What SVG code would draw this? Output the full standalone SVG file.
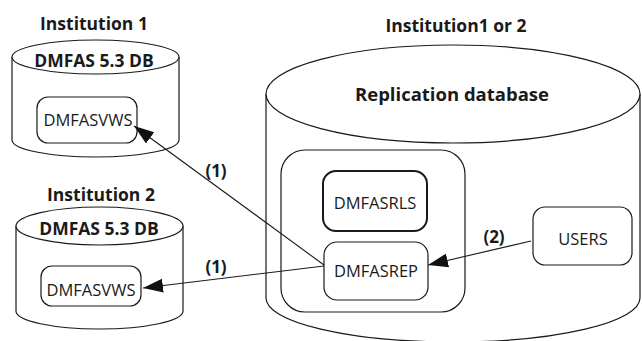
<svg xmlns="http://www.w3.org/2000/svg" width="642" height="341" viewBox="0 0 642 341">
<defs>
<style>
.s{fill:none;stroke:#1a1a1a;stroke-width:1.2}
.w{fill:#fff;stroke:#1a1a1a;stroke-width:1.2}
.b{font-family:"Open Sans","Liberation Sans",sans-serif;font-weight:bold;fill:#1a1a1a;text-anchor:middle}
.r{font-family:"Open Sans","Liberation Sans",sans-serif;fill:#1a1a1a;text-anchor:middle;font-size:16.5px}
.c{fill:none;stroke:#1a1a1a;stroke-width:1.1}
</style>
<marker id="ah" markerUnits="userSpaceOnUse" markerWidth="22" markerHeight="16" refX="20" refY="7" orient="auto" viewBox="0 0 22 14">
<path d="M0,0 L20,7 L0,14 Z" fill="#111"/>
</marker>
</defs>
<rect width="642" height="341" fill="#fff"/>

<g id="institution1">
<text class="b" x="94" y="30" font-size="17.5">Institution 1</text>
<path class="w" d="M12,57 L12,140 A83.5,17 0 0 0 179,140 L179,57"/>
<ellipse class="w" cx="95.5" cy="57" rx="83.5" ry="17"/>
<text class="b" x="94" y="67" font-size="17.5">DMFAS 5.3 DB</text>
<rect class="w" x="37" y="97" width="100" height="46" rx="11"/>
<text class="r" x="88" y="126">DMFASVWS</text>
</g>

<g id="institution2">
<text class="b" x="101" y="201" font-size="17.5">Institution 2</text>
<path class="w" d="M16,226 L16,311 A83.5,18 0 0 0 183,311 L183,226"/>
<ellipse class="w" cx="99.5" cy="226" rx="83.5" ry="19"/>
<text class="b" x="99" y="235" font-size="17.5">DMFAS 5.3 DB</text>
<rect class="w" x="41" y="266" width="100" height="40" rx="11"/>
<text class="r" x="91" y="296">DMFASVWS</text>
</g>

<g id="replication">
<text class="b" x="456" y="32" font-size="17.5">Institution1 or 2</text>
<path class="w" d="M266,94 L266,298 A187,44 0 0 0 640,298 L640,94"/>
<ellipse class="w" cx="453" cy="94" rx="187" ry="49"/>
<text class="b" x="452" y="101" font-size="18.5">Replication database</text>
<rect class="w" x="281" y="150" width="184" height="162" rx="24"/>
</g>

<g id="dmfasrls">
<rect x="323" y="171" width="104" height="60" rx="13" fill="#fff" stroke="#1a1a1a" stroke-width="2"/>
<text class="r" x="375" y="209">DMFASRLS</text>
</g>

<g id="dmfasrep">
<rect class="w" x="324" y="242" width="104" height="58" rx="13"/>
<text class="r" x="376" y="277">DMFASREP</text>
</g>

<g id="users">
<rect class="w" x="533" y="207" width="99" height="58" rx="12"/>
<text class="r" x="583" y="245">USERS</text>
</g>

<g id="connectors">
<line class="c" x1="324" y1="265" x2="134" y2="126" marker-end="url(#ah)"/>
<line class="c" x1="324" y1="266" x2="143" y2="288" marker-end="url(#ah)"/>
<line class="c" x1="531" y1="241" x2="428" y2="265" marker-end="url(#ah)"/>
<text class="b" x="216" y="177" font-size="17">(1)</text>
<text class="b" x="216" y="273" font-size="17">(1)</text>
<text class="b" x="494" y="243" font-size="17">(2)</text>
</g>
</svg>
